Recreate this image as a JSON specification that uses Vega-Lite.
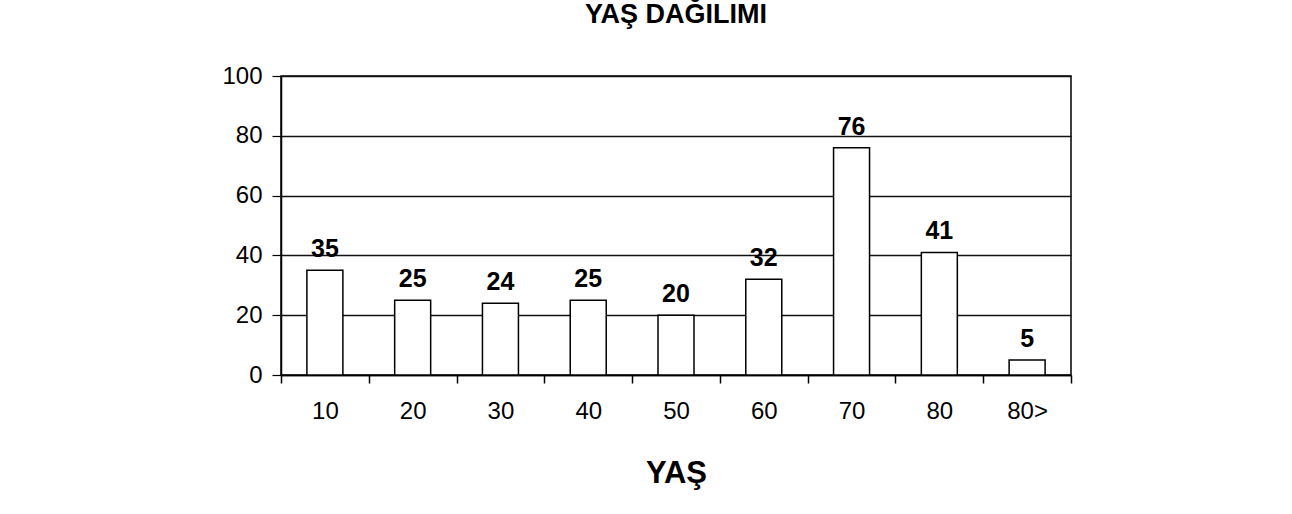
{
  "$schema": "https://vega.github.io/schema/vega-lite/v6.json",
  "width": 790,
  "height": 299,
  "autosize": {"type": "none"},
  "padding": {"left": 281, "top": 76, "right": 221, "bottom": 139},
  "background": "white",
  "title": {
    "text": "YAŞ DAĞILIMI",
    "font": "Liberation Sans",
    "fontSize": 27,
    "fontWeight": "bold",
    "color": "#000",
    "anchor": "middle",
    "baseline": "bottom",
    "offset": 8
  },
  "data": {
    "values": [
      {"yas": "10", "sayi": 35},
      {"yas": "20", "sayi": 25},
      {"yas": "30", "sayi": 24},
      {"yas": "40", "sayi": 25},
      {"yas": "50", "sayi": 20},
      {"yas": "60", "sayi": 32},
      {"yas": "70", "sayi": 76},
      {"yas": "80", "sayi": 41},
      {"yas": "80>", "sayi": 5}
    ]
  },
  "encoding": {
    "x": {
      "field": "yas",
      "type": "nominal",
      "sort": null,
      "scale": {"paddingInner": 0, "paddingOuter": 0},
      "axis": {
        "title": "YAŞ",
        "labelAngle": 0,
        "tickBand": "extent",
        "grid": false,
        "domainColor": "#000",
        "domainWidth": 1.5,
        "tickColor": "#000",
        "tickWidth": 1.5,
        "tickSize": 8,
        "labelFont": "Liberation Sans",
        "labelFontSize": 24,
        "labelColor": "#000",
        "labelPadding": 16,
        "titleFont": "Liberation Sans",
        "titleFontSize": 31,
        "titleFontWeight": "bold",
        "titleColor": "#000",
        "titlePadding": 35
      }
    },
    "y": {
      "field": "sayi",
      "type": "quantitative",
      "scale": {"domain": [0, 100], "nice": false},
      "axis": {
        "title": null,
        "values": [0, 20, 40, 60, 80, 100],
        "grid": true,
        "gridColor": "#111",
        "gridWidth": 1.3,
        "domainColor": "#000",
        "domainWidth": 1.5,
        "tickColor": "#000",
        "tickWidth": 1.2,
        "tickSize": 9,
        "labelFont": "Liberation Sans",
        "labelFontSize": 24,
        "labelColor": "#000",
        "labelPadding": 10
      }
    }
  },
  "layer": [
    {
      "mark": {"type": "bar", "width": {"band": 0.41}, "fill": "white", "stroke": "#000", "strokeWidth": 1.5}
    },
    {
      "mark": {"type": "text", "baseline": "alphabetic", "dy": -13, "font": "Liberation Sans", "fontSize": 25, "fontWeight": "bold", "color": "#000"},
      "encoding": {"text": {"field": "sayi", "type": "quantitative"}}
    }
  ],
  "config": {
    "view": {"stroke": "#000", "strokeWidth": 1.5}
  }
}
